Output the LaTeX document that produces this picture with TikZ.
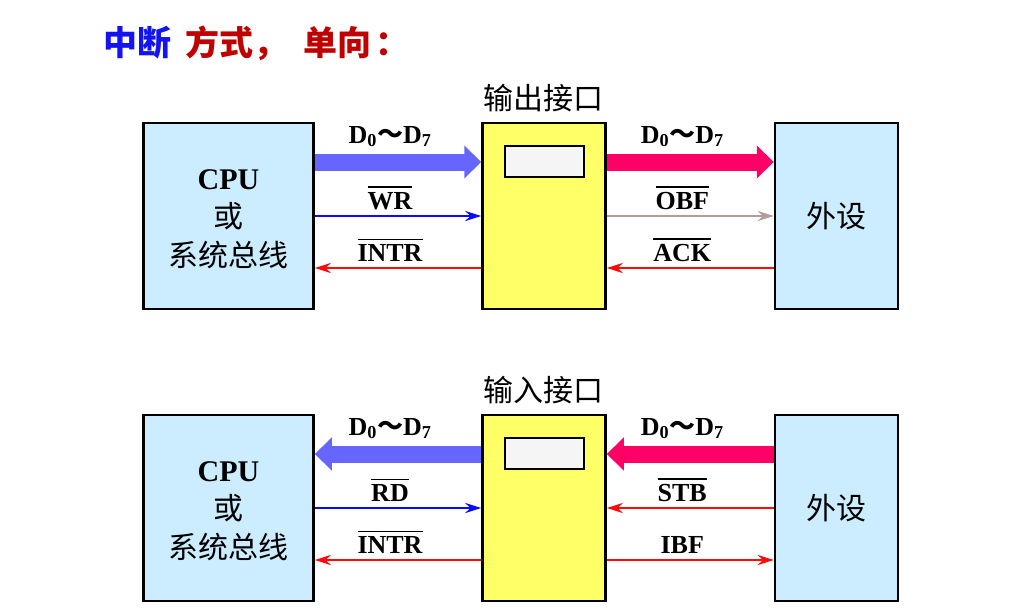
\documentclass[tikz,border=0pt]{standalone}
\usepackage{fontspec}
\setmainfont{Liberation Serif}
\newfontfamily\cjk{Noto Sans CJK SC}
\usetikzlibrary{arrows.meta}

\definecolor{kuanglan}{HTML}{CCECFF}
\definecolor{jkhuang}{HTML}{FFFF66}
\definecolor{lanjian}{HTML}{6666FF}
\definecolor{hongjian}{HTML}{FF0066}
\definecolor{xianlan}{HTML}{0A0AFF}
\definecolor{xianhong}{HTML}{FF0A0A}
\definecolor{huijian}{HTML}{B49C9C}
\definecolor{biaolan}{HTML}{1414F0}
\definecolor{biaohong}{HTML}{C00000}

\newcommand\fanxiang[1]{\setbox0\hbox{#1}\rlap{\raisebox{\dimexpr\ht0+4pt\relax}{\rule{\wd0}{1.8pt}}}\box0}

\tikzset{
  kuang/.style={draw, line width=2.5pt, minimum height=186pt},
  cudai/.style={line width=17pt, color=#1, -{Triangle[length=17pt,width=32pt]}},
  xian/.style={line width=2.5pt, color=#1, -{Stealth[length=16pt,width=10pt]}},
  lbl/.style={midway, above=2pt, xshift=-8pt, text=black, font=\bfseries\fontsize{26}{30}\selectfont},
  lbld/.style={lbl, above=1pt}
}

\begin{document}
\begin{tikzpicture}[x=1pt,y=-1pt]
\useasboundingbox (0,0) rectangle (1024,611);
\newcommand\jiekou[1]{
\node[kuang, fill=kuanglan, minimum width=170pt, align=center, font=\fontsize{30}{38.5}\selectfont] (cpu) at (228.5,216) {};
\node[align=center, font=\fontsize{30}{38.5}\selectfont] (cpuzi) at (228.5,219) {{\bfseries CPU}\\{\cjk 或}\\{\cjk 系统总线}};
\node[kuang, fill=jkhuang, minimum width=123pt] (jk) at (544,216) {};
\node[draw, line width=2.5pt, fill=white!96!black, minimum width=79pt, minimum height=31pt] (reg) at (544.5,161.5) {};
\node[kuang, fill=kuanglan, minimum width=123pt, font=\cjk\fontsize{30}{30}\selectfont] (ws) at (836.5,216) {外设};
\node[font=\cjk\fontsize{30}{30}\selectfont] (bt) at (543,98) {#1};
\coordinate (r1) at (0,162);
\coordinate (r2) at (0,216);
\coordinate (r3) at (0,268);
}

\node[font=\cjk\bfseries\fontsize{34}{34}\selectfont, anchor=west] (biaoti) at (100,43) {\textcolor{biaolan}{中断}\hspace{14pt}\textcolor{biaohong}{方式，\hspace{16pt}单向\hspace{4pt}：}};

% shuchu
\begin{scope}
\jiekou{输出接口}
\path[draw,cudai=lanjian] (cpu.east |- r1) -- node[lbld] {D\textsubscript{0}{\cjk ～}D\textsubscript{7}} (jk.west |- r1);
\path[draw,xian=xianlan] (cpu.east |- r2) -- node[lbl] {\fanxiang{WR}} (jk.west |- r2);
\path[draw,xian=xianhong] (jk.west |- r3) -- node[lbl] {\fanxiang{INTR}} (cpu.east |- r3);
\path[draw,cudai=hongjian] (jk.east |- r1) -- node[lbld] {D\textsubscript{0}{\cjk ～}D\textsubscript{7}} (ws.west |- r1);
\path[draw,xian=huijian] (jk.east |- r2) -- node[lbl] {\fanxiang{OBF}} (ws.west |- r2);
\path[draw,xian=xianhong] (ws.west |- r3) -- node[lbl] {\fanxiang{ACK}} (jk.east |- r3);
\end{scope}

% shuru
\begin{scope}[yshift=-292pt]
\jiekou{输入接口}
\path[draw,cudai=lanjian] (jk.west |- r1) -- node[lbld] {D\textsubscript{0}{\cjk ～}D\textsubscript{7}} (cpu.east |- r1);
\path[draw,xian=xianlan] (cpu.east |- r2) -- node[lbl] {\fanxiang{RD}} (jk.west |- r2);
\path[draw,xian=xianhong] (jk.west |- r3) -- node[lbl] {\fanxiang{INTR}} (cpu.east |- r3);
\path[draw,cudai=hongjian] (ws.west |- r1) -- node[lbld] {D\textsubscript{0}{\cjk ～}D\textsubscript{7}} (jk.east |- r1);
\path[draw,xian=xianhong] (ws.west |- r2) -- node[lbl] {\fanxiang{STB}} (jk.east |- r2);
\path[draw,xian=xianhong] (jk.east |- r3) -- node[lbl] {IBF} (ws.west |- r3);
\end{scope}
\end{tikzpicture}
\end{document}
